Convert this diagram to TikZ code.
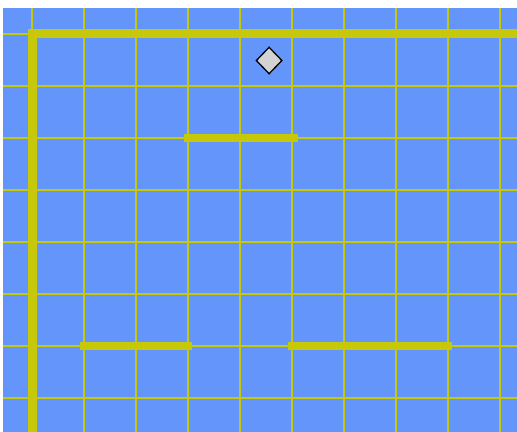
\documentclass[tikz,border=0pt]{standalone}
\usepackage{tikz}
\usetikzlibrary{shapes.geometric}
\usepackage{xcolor}
\definecolor{floorblue}{RGB}{100,149,250}
\definecolor{wallyellow}{RGB}{200,200,10}
\definecolor{tokengray}{RGB}{211,211,211}

\begin{document}
\begin{tikzpicture}[x=52pt, y=-52pt]
        \useasboundingbox (-0.6154,-0.6538) rectangle (9.3269,7.6538);
        \clip (-0.558,-0.5) rectangle (9.3269,7.6538);

        % Floor
        \fill[floorblue] (-0.558,-0.5) rectangle (9.3269,7.6538);

        % Draw grid
        \foreach \x in {0,...,9}
            \draw[wallyellow, line width=1.2pt] (\x,-0.5) -- (\x,7.6538);
        \foreach \y in {0,...,7}
            \draw[wallyellow, line width=1.2pt] (-0.558,\y) -- (9.3269,\y);

        % Outer walls
        \draw[wallyellow, line width=9pt, line cap=rect] (9.4,0) -- (0,0) -- (0,7.7);

        % Inner walls
        \draw[wallyellow, line width=8pt, line cap=rect] (3,2) -- (5.04,2);
        \draw[wallyellow, line width=8pt, line cap=rect] (1,6) -- (3,6);
        \draw[wallyellow, line width=8pt, line cap=rect] (5,6) -- (8,6);

        % Token
        \node[diamond, draw=black, fill=tokengray, line width=1.3pt, inner sep=0pt,
              minimum width=26pt, minimum height=27pt] (token) at (4.56,0.51) {};
    \end{tikzpicture}
\end{document}
